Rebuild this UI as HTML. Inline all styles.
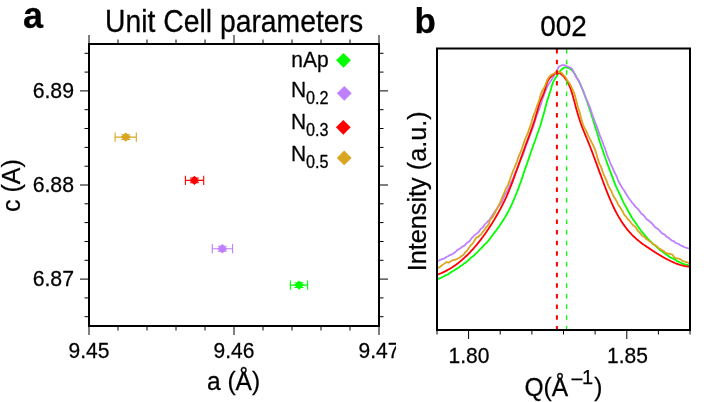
<!DOCTYPE html><html><head><meta charset="utf-8"><style>html,body{margin:0;padding:0;background:#fff;width:710px;height:402px;overflow:hidden}svg{display:block;will-change:transform}text{font-family:"Liberation Sans", sans-serif;fill:#000;stroke:#000;stroke-width:0.25px}</style></head><body>
<svg width="710" height="402" viewBox="0 0 710 402">
<text transform="translate(23.00,28.20) scale(1.000,1.050)" text-anchor="start" style="font-size:36px;font-weight:bold">a</text>
<text transform="translate(105.00,31.60) scale(1.012,1.120)" text-anchor="start" style="font-size:28px">Unit Cell parameters</text>
<path d="M89.0 44 V35.0 M89.0 326 V335.0 M118.0 44 V39.5 M118.0 326 V330.5 M147.0 44 V39.5 M147.0 326 V330.5 M176.0 44 V39.5 M176.0 326 V330.5 M205.0 44 V39.5 M205.0 326 V330.5 M234.0 44 V35.0 M234.0 326 V335.0 M263.0 44 V39.5 M263.0 326 V330.5 M292.0 44 V39.5 M292.0 326 V330.5 M321.0 44 V39.5 M321.0 326 V330.5 M350.0 44 V39.5 M350.0 326 V330.5 M379.0 44 V35.0 M379.0 326 V335.0 M89 53.3 H84.5 M379 53.3 H383.5 M89 72.1 H84.5 M379 72.1 H383.5 M89 90.9 H80.0 M379 90.9 H388.0 M89 109.7 H84.5 M379 109.7 H383.5 M89 128.5 H84.5 M379 128.5 H383.5 M89 147.4 H84.5 M379 147.4 H383.5 M89 166.2 H84.5 M379 166.2 H383.5 M89 185.0 H80.0 M379 185.0 H388.0 M89 203.8 H84.5 M379 203.8 H383.5 M89 222.6 H84.5 M379 222.6 H383.5 M89 241.5 H84.5 M379 241.5 H383.5 M89 260.3 H84.5 M379 260.3 H383.5 M89 279.1 H80.0 M379 279.1 H388.0 M89 297.9 H84.5 M379 297.9 H383.5 M89 316.7 H84.5 M379 316.7 H383.5" stroke="#000" stroke-width="1.0" fill="none"/>
<rect x="89" y="44" width="290" height="282" fill="none" stroke="#000" stroke-width="2"/>
<text transform="translate(74.00,98.10) scale(1.012,1.085)" text-anchor="end" style="font-size:21px">6.89</text>
<text transform="translate(74.00,192.20) scale(1.012,1.085)" text-anchor="end" style="font-size:21px">6.88</text>
<text transform="translate(74.00,286.30) scale(1.012,1.085)" text-anchor="end" style="font-size:21px">6.87</text>
<svg x="0" y="0" width="396" height="402" overflow="hidden">
<text transform="translate(89.00,358.30) scale(1.000,1.085)" text-anchor="middle" style="font-size:21px">9.45</text>
<text transform="translate(234.00,358.30) scale(1.000,1.085)" text-anchor="middle" style="font-size:21px">9.46</text>
<text transform="translate(379.00,358.30) scale(1.000,1.085)" text-anchor="middle" style="font-size:21px">9.47</text>
</svg>
<text transform="translate(233.50,390.00) scale(1.000,1.060)" text-anchor="middle" style="font-size:24.5px">a (Å)</text>
<text transform="translate(20.00,185.60) rotate(-90) scale(1.000,1.040)" text-anchor="middle" style="font-size:25px">c (A)</text>
<text transform="translate(328.60,66.70) scale(1.000,1.085)" text-anchor="end" style="font-size:21px">nAp</text>
<path d="M343.5 52.9 L350.9 60.3 L343.5 67.7 L336.1 60.3 Z" fill="#00ff00"/>
<text transform="translate(328.60,96.70) scale(1.000,1.085)" text-anchor="end" style="font-size:21px">N<tspan dy="6.4" style="font-size:16.2px">0.2</tspan></text>
<path d="M344.3 85.9 L351.7 93.3 L344.3 100.7 L336.9 93.3 Z" fill="#bf80ff"/>
<text transform="translate(328.60,128.70) scale(1.000,1.085)" text-anchor="end" style="font-size:21px">N<tspan dy="6.4" style="font-size:16.2px">0.3</tspan></text>
<path d="M343.3 119.9 L350.7 127.3 L343.3 134.7 L335.9 127.3 Z" fill="#ff0000"/>
<text transform="translate(328.60,160.70) scale(1.000,1.085)" text-anchor="end" style="font-size:21px">N<tspan dy="6.4" style="font-size:16.2px">0.5</tspan></text>
<path d="M344.2 150.5 L351.6 157.9 L344.2 165.3 L336.8 157.9 Z" fill="#daa520"/>
<path d="M115.1 137.1 H136.3 M115.1 132.5 V141.7 M136.3 132.5 V141.7 M121.3 134.7 H130.3 M121.3 139.5 H130.3" stroke="#daa520" stroke-width="1.1" fill="none"/>
<path d="M125.8 132.4 L130.8 137.1 L125.8 141.8 L120.8 137.1 Z" fill="#daa520"/>
<path d="M185.4 180.4 H203.7 M185.4 175.8 V185.0 M203.7 175.8 V185.0 M189.9 178.0 H198.9 M189.9 182.8 H198.9" stroke="#ff0000" stroke-width="1.1" fill="none"/>
<path d="M194.4 175.7 L199.4 180.4 L194.4 185.1 L189.4 180.4 Z" fill="#ff0000"/>
<path d="M212.3 248.7 H232.6 M212.3 244.1 V253.3 M232.6 244.1 V253.3 M217.8 246.3 H226.8 M217.8 251.1 H226.8" stroke="#bf80ff" stroke-width="1.1" fill="none"/>
<path d="M222.3 244.0 L227.3 248.7 L222.3 253.4 L217.3 248.7 Z" fill="#bf80ff"/>
<path d="M290.4 285.1 H307.6 M290.4 280.5 V289.7 M307.6 280.5 V289.7 M294.5 282.7 H303.5 M294.5 287.5 H303.5" stroke="#00ff00" stroke-width="1.1" fill="none"/>
<path d="M299.0 280.4 L304.0 285.1 L299.0 289.8 L294.0 285.1 Z" fill="#00ff00"/>
<text transform="translate(414.50,32.50) scale(1.000,1.000)" text-anchor="start" style="font-size:35px;font-weight:bold">b</text>
<text transform="translate(563.50,36.00) scale(1.000,1.085)" text-anchor="middle" style="font-size:28px">002</text>
<defs><clipPath id="cb"><rect x="437" y="48.5" width="253" height="281.5"/></clipPath></defs>
<g clip-path="url(#cb)">
<path d="M436.0 280.55 L437.0 280.00 L438.0 279.28 L439.0 278.62 L440.0 278.19 L441.0 277.79 L442.0 277.28 L443.0 276.75 L444.0 276.23 L445.0 275.63 L446.0 275.09 L447.0 274.76 L448.0 274.38 L449.0 273.81 L450.0 273.05 L451.0 272.30 L452.0 271.60 L453.0 271.01 L454.0 270.51 L455.0 269.78 L456.0 269.06 L457.0 268.62 L458.0 268.14 L459.0 267.34 L460.0 266.44 L461.0 265.77 L462.0 265.19 L463.0 264.41 L464.0 263.58 L465.0 262.90 L466.0 262.35 L467.0 261.58 L468.0 260.50 L469.0 259.55 L470.0 258.64 L471.0 257.67 L472.0 256.88 L473.0 256.21 L474.0 255.48 L475.0 254.45 L476.0 253.40 L477.0 252.57 L478.0 251.53 L479.0 250.38 L480.0 249.43 L481.0 248.46 L482.0 247.43 L483.0 246.32 L484.0 245.13 L485.0 244.20 L486.0 243.34 L487.0 242.26 L488.0 241.11 L489.0 239.96 L490.0 238.64 L491.0 237.23 L492.0 235.89 L493.0 234.47 L494.0 233.08 L495.0 231.85 L496.0 230.79 L497.0 229.54 L498.0 228.09 L499.0 226.66 L500.0 225.08 L501.0 223.54 L502.0 221.99 L503.0 220.36 L504.0 218.94 L505.0 217.37 L506.0 215.50 L507.0 213.72 L508.0 211.99 L509.0 210.18 L510.0 208.19 L511.0 206.09 L512.0 203.96 L513.0 201.62 L514.0 199.29 L515.0 197.00 L516.0 194.48 L517.0 192.00 L518.0 189.45 L519.0 186.69 L520.0 184.05 L521.0 181.38 L522.0 178.41 L523.0 175.25 L524.0 172.17 L525.0 169.38 L526.0 166.61 L527.0 163.67 L528.0 160.74 L529.0 157.87 L530.0 154.93 L531.0 152.05 L532.0 149.19 L533.0 146.23 L534.0 143.52 L535.0 140.98 L536.0 138.05 L537.0 134.98 L538.0 132.18 L539.0 129.46 L540.0 126.51 L541.0 123.26 L542.0 119.85 L543.0 116.45 L544.0 112.99 L545.0 109.23 L546.0 105.25 L547.0 101.38 L548.0 98.24 L549.0 95.33 L550.0 92.22 L551.0 89.02 L552.0 85.20 L553.0 82.41 L554.0 80.39 L555.0 78.81 L556.0 77.30 L557.0 75.78 L558.0 74.07 L559.0 72.39 L560.0 71.14 L561.0 70.10 L562.0 69.05 L563.0 68.23 L564.0 67.71 L565.0 67.39 L566.0 67.45 L567.0 67.75 L568.0 67.86 L569.0 68.01 L570.0 68.68 L571.0 69.45 L572.0 70.34 L573.0 71.46 L574.0 72.64 L575.0 74.22 L576.0 76.18 L577.0 78.08 L578.0 79.88 L579.0 81.65 L580.0 83.59 L581.0 85.95 L582.0 88.31 L583.0 90.65 L584.0 93.40 L585.0 96.00 L586.0 98.70 L587.0 101.55 L588.0 104.38 L589.0 107.37 L590.0 110.50 L591.0 113.56 L592.0 116.61 L593.0 119.77 L594.0 123.04 L595.0 126.25 L596.0 129.35 L597.0 132.51 L598.0 135.64 L599.0 138.89 L600.0 142.27 L601.0 145.18 L602.0 148.07 L603.0 151.19 L604.0 154.11 L605.0 157.08 L606.0 160.01 L607.0 162.69 L608.0 165.40 L609.0 168.16 L610.0 170.79 L611.0 173.30 L612.0 175.91 L613.0 178.67 L614.0 181.34 L615.0 183.87 L616.0 186.30 L617.0 188.51 L618.0 190.61 L619.0 192.71 L620.0 194.75 L621.0 196.89 L622.0 199.11 L623.0 201.31 L624.0 203.35 L625.0 205.16 L626.0 206.92 L627.0 208.73 L628.0 210.67 L629.0 212.57 L630.0 214.25 L631.0 215.96 L632.0 217.80 L633.0 219.38 L634.0 220.70 L635.0 222.10 L636.0 223.60 L637.0 225.09 L638.0 226.53 L639.0 227.96 L640.0 229.39 L641.0 230.76 L642.0 231.96 L643.0 233.06 L644.0 234.20 L645.0 235.29 L646.0 236.51 L647.0 237.77 L648.0 238.86 L649.0 239.93 L650.0 240.86 L651.0 241.85 L652.0 242.90 L653.0 243.81 L654.0 244.68 L655.0 245.53 L656.0 246.37 L657.0 247.24 L658.0 248.18 L659.0 249.15 L660.0 249.99 L661.0 250.64 L662.0 251.15 L663.0 251.99 L664.0 252.90 L665.0 253.62 L666.0 254.41 L667.0 255.05 L668.0 255.62 L669.0 256.43 L670.0 257.22 L671.0 257.66 L672.0 258.06 L673.0 258.57 L674.0 259.07 L675.0 259.53 L676.0 260.26 L677.0 261.06 L678.0 261.52 L679.0 261.89 L680.0 262.42 L681.0 262.91 L682.0 263.32 L683.0 263.78 L684.0 264.09 L685.0 264.41 L686.0 264.67 L687.0 264.74 L688.0 265.11 L689.0 265.59 L690.0 265.87 L691.0 266.21" stroke="#00ff00" stroke-width="1.8" fill="none" stroke-linejoin="round"/>
<path d="M436.0 260.57 L437.0 260.70 L438.0 261.07 L439.0 260.56 L440.0 259.94 L441.0 259.66 L442.0 259.20 L443.0 258.82 L444.0 258.58 L445.0 257.99 L446.0 257.15 L447.0 256.75 L448.0 256.18 L449.0 255.51 L450.0 255.12 L451.0 254.66 L452.0 254.33 L453.0 253.78 L454.0 252.95 L455.0 252.26 L456.0 251.34 L457.0 250.25 L458.0 249.60 L459.0 249.07 L460.0 248.43 L461.0 247.79 L462.0 246.95 L463.0 246.21 L464.0 246.01 L465.0 245.34 L466.0 243.88 L467.0 242.77 L468.0 242.15 L469.0 241.67 L470.0 240.65 L471.0 239.04 L472.0 237.78 L473.0 236.78 L474.0 235.67 L475.0 234.82 L476.0 234.11 L477.0 233.32 L478.0 232.75 L479.0 231.64 L480.0 229.95 L481.0 228.66 L482.0 227.97 L483.0 227.16 L484.0 225.59 L485.0 224.15 L486.0 223.35 L487.0 222.34 L488.0 221.22 L489.0 220.29 L490.0 218.99 L491.0 217.40 L492.0 215.86 L493.0 214.55 L494.0 212.96 L495.0 211.30 L496.0 209.98 L497.0 208.51 L498.0 206.97 L499.0 205.72 L500.0 204.62 L501.0 203.02 L502.0 201.21 L503.0 199.18 L504.0 196.57 L505.0 194.35 L506.0 192.97 L507.0 191.46 L508.0 189.43 L509.0 187.43 L510.0 185.07 L511.0 182.47 L512.0 180.64 L513.0 178.74 L514.0 175.77 L515.0 172.94 L516.0 170.87 L517.0 168.81 L518.0 166.46 L519.0 163.94 L520.0 161.26 L521.0 158.71 L522.0 156.85 L523.0 154.91 L524.0 151.97 L525.0 148.80 L526.0 145.81 L527.0 142.92 L528.0 140.61 L529.0 138.07 L530.0 135.15 L531.0 132.54 L532.0 129.92 L533.0 127.13 L534.0 124.14 L535.0 120.86 L536.0 117.49 L537.0 114.62 L538.0 112.17 L539.0 109.60 L540.0 107.03 L541.0 104.06 L542.0 100.59 L543.0 97.55 L544.0 95.01 L545.0 92.41 L546.0 89.70 L547.0 87.30 L548.0 85.41 L549.0 83.69 L550.0 82.13 L551.0 80.70 L552.0 79.12 L553.0 77.37 L554.0 75.82 L555.0 74.14 L556.0 72.43 L557.0 70.63 L558.0 68.12 L559.0 66.46 L560.0 66.02 L561.0 65.59 L562.0 65.11 L563.0 65.09 L564.0 65.11 L565.0 65.29 L566.0 65.91 L567.0 66.39 L568.0 66.57 L569.0 66.97 L570.0 67.63 L571.0 68.05 L572.0 68.85 L573.0 70.63 L574.0 72.75 L575.0 74.98 L576.0 77.01 L577.0 78.40 L578.0 79.56 L579.0 81.09 L580.0 83.36 L581.0 86.10 L582.0 88.43 L583.0 90.36 L584.0 92.93 L585.0 95.81 L586.0 98.43 L587.0 100.53 L588.0 102.63 L589.0 105.12 L590.0 107.79 L591.0 110.63 L592.0 113.73 L593.0 116.68 L594.0 119.42 L595.0 122.03 L596.0 124.51 L597.0 127.18 L598.0 129.92 L599.0 132.87 L600.0 135.85 L601.0 138.16 L602.0 140.43 L603.0 143.29 L604.0 145.97 L605.0 148.46 L606.0 151.44 L607.0 154.73 L608.0 157.44 L609.0 159.67 L610.0 162.29 L611.0 164.64 L612.0 166.54 L613.0 168.83 L614.0 171.26 L615.0 173.25 L616.0 175.08 L617.0 177.43 L618.0 180.03 L619.0 182.30 L620.0 184.06 L621.0 185.67 L622.0 187.59 L623.0 189.00 L624.0 190.23 L625.0 192.01 L626.0 193.70 L627.0 195.23 L628.0 196.85 L629.0 198.45 L630.0 199.70 L631.0 200.97 L632.0 202.48 L633.0 203.66 L634.0 204.89 L635.0 206.27 L636.0 207.21 L637.0 208.11 L638.0 209.13 L639.0 210.15 L640.0 211.72 L641.0 213.23 L642.0 213.99 L643.0 214.76 L644.0 215.68 L645.0 216.99 L646.0 218.58 L647.0 219.49 L648.0 220.07 L649.0 220.89 L650.0 221.73 L651.0 222.57 L652.0 223.49 L653.0 224.59 L654.0 225.91 L655.0 227.06 L656.0 227.88 L657.0 228.41 L658.0 229.05 L659.0 230.00 L660.0 231.05 L661.0 232.23 L662.0 233.25 L663.0 233.92 L664.0 234.23 L665.0 234.84 L666.0 236.22 L667.0 237.05 L668.0 237.30 L669.0 238.24 L670.0 239.15 L671.0 239.74 L672.0 240.59 L673.0 240.95 L674.0 241.42 L675.0 242.47 L676.0 242.97 L677.0 243.34 L678.0 243.80 L679.0 244.28 L680.0 245.09 L681.0 245.52 L682.0 245.84 L683.0 246.37 L684.0 247.00 L685.0 247.41 L686.0 247.60 L687.0 248.02 L688.0 248.23 L689.0 248.35 L690.0 248.60 L691.0 248.85" stroke="#bf80ff" stroke-width="1.8" fill="none" stroke-linejoin="round"/>
<path d="M436.0 275.06 L437.0 274.73 L438.0 274.39 L439.0 274.02 L440.0 273.63 L441.0 273.23 L442.0 272.80 L443.0 272.36 L444.0 271.89 L445.0 271.40 L446.0 270.90 L447.0 270.37 L448.0 269.82 L449.0 269.25 L450.0 268.66 L451.0 268.05 L452.0 267.42 L453.0 266.76 L454.0 266.09 L455.0 265.39 L456.0 264.67 L457.0 263.93 L458.0 263.17 L459.0 262.39 L460.0 261.58 L461.0 260.75 L462.0 259.90 L463.0 259.03 L464.0 258.13 L465.0 257.21 L466.0 256.27 L467.0 255.31 L468.0 254.32 L469.0 253.31 L470.0 252.28 L471.0 251.22 L472.0 250.14 L473.0 249.04 L474.0 247.91 L475.0 246.76 L476.0 245.58 L477.0 244.38 L478.0 243.16 L479.0 241.91 L480.0 240.64 L481.0 239.34 L482.0 238.02 L483.0 236.67 L484.0 235.30 L485.0 233.91 L486.0 232.48 L487.0 231.04 L488.0 229.56 L489.0 228.06 L490.0 226.53 L491.0 224.98 L492.0 223.39 L493.0 221.78 L494.0 220.13 L495.0 218.45 L496.0 216.75 L497.0 215.01 L498.0 213.24 L499.0 211.43 L500.0 209.59 L501.0 207.72 L502.0 205.82 L503.0 203.87 L504.0 201.90 L505.0 199.85 L506.0 197.71 L507.0 195.47 L508.0 193.14 L509.0 190.74 L510.0 188.26 L511.0 185.72 L512.0 183.11 L513.0 180.46 L514.0 177.76 L515.0 175.02 L516.0 172.25 L517.0 169.45 L518.0 166.63 L519.0 163.81 L520.0 160.97 L521.0 158.14 L522.0 155.32 L523.0 152.52 L524.0 149.73 L525.0 146.98 L526.0 144.26 L527.0 141.58 L528.0 138.92 L529.0 136.26 L530.0 133.57 L531.0 130.82 L532.0 128.00 L533.0 125.08 L534.0 122.04 L535.0 118.86 L536.0 115.50 L537.0 111.96 L538.0 108.38 L539.0 104.84 L540.0 101.76 L541.0 99.42 L542.0 97.34 L543.0 95.07 L544.0 92.47 L545.0 89.34 L546.0 86.06 L547.0 83.02 L548.0 80.60 L549.0 79.03 L550.0 77.79 L551.0 76.75 L552.0 75.85 L553.0 75.02 L554.0 74.14 L555.0 73.30 L556.0 72.65 L557.0 72.40 L558.0 72.54 L559.0 72.91 L560.0 73.40 L561.0 73.96 L562.0 74.79 L563.0 75.81 L564.0 76.95 L565.0 78.17 L566.0 79.57 L567.0 81.16 L568.0 82.93 L569.0 84.87 L570.0 87.21 L571.0 89.96 L572.0 93.11 L573.0 96.54 L574.0 100.17 L575.0 103.91 L576.0 107.66 L577.0 111.32 L578.0 114.80 L579.0 118.05 L580.0 121.09 L581.0 123.96 L582.0 126.67 L583.0 129.26 L584.0 131.76 L585.0 134.20 L586.0 136.61 L587.0 139.02 L588.0 141.45 L589.0 143.93 L590.0 146.46 L591.0 149.03 L592.0 151.65 L593.0 154.30 L594.0 156.98 L595.0 159.68 L596.0 162.39 L597.0 165.12 L598.0 167.86 L599.0 170.59 L600.0 173.32 L601.0 176.05 L602.0 178.75 L603.0 181.44 L604.0 184.09 L605.0 186.72 L606.0 189.31 L607.0 191.85 L608.0 194.35 L609.0 196.79 L610.0 199.18 L611.0 201.49 L612.0 203.74 L613.0 205.91 L614.0 208.01 L615.0 210.03 L616.0 211.97 L617.0 213.85 L618.0 215.65 L619.0 217.39 L620.0 219.06 L621.0 220.67 L622.0 222.21 L623.0 223.70 L624.0 225.13 L625.0 226.51 L626.0 227.83 L627.0 229.10 L628.0 230.32 L629.0 231.50 L630.0 232.63 L631.0 233.71 L632.0 234.76 L633.0 235.77 L634.0 236.74 L635.0 237.67 L636.0 238.57 L637.0 239.45 L638.0 240.29 L639.0 241.11 L640.0 241.90 L641.0 242.67 L642.0 243.42 L643.0 244.15 L644.0 244.86 L645.0 245.57 L646.0 246.25 L647.0 246.93 L648.0 247.60 L649.0 248.27 L650.0 248.93 L651.0 249.58 L652.0 250.24 L653.0 250.89 L654.0 251.53 L655.0 252.17 L656.0 252.81 L657.0 253.44 L658.0 254.06 L659.0 254.67 L660.0 255.28 L661.0 255.88 L662.0 256.47 L663.0 257.05 L664.0 257.62 L665.0 258.17 L666.0 258.72 L667.0 259.25 L668.0 259.78 L669.0 260.28 L670.0 260.78 L671.0 261.26 L672.0 261.72 L673.0 262.17 L674.0 262.60 L675.0 263.02 L676.0 263.41 L677.0 263.79 L678.0 264.15 L679.0 264.49 L680.0 264.82 L681.0 265.12 L682.0 265.39 L683.0 265.65 L684.0 265.89 L685.0 266.10 L686.0 266.29 L687.0 266.45 L688.0 266.59 L689.0 266.70 L690.0 266.79 L691.0 266.85" stroke="#ff0000" stroke-width="1.8" fill="none" stroke-linejoin="round"/>
<path d="M436.0 270.35 L437.0 268.61 L438.0 267.75 L439.0 267.55 L440.0 266.91 L441.0 266.03 L442.0 265.31 L443.0 264.62 L444.0 263.89 L445.0 263.09 L446.0 262.40 L447.0 262.05 L448.0 262.27 L449.0 262.55 L450.0 261.88 L451.0 260.98 L452.0 260.54 L453.0 260.18 L454.0 259.96 L455.0 259.77 L456.0 259.48 L457.0 258.98 L458.0 258.28 L459.0 257.99 L460.0 257.43 L461.0 256.35 L462.0 255.77 L463.0 255.16 L464.0 254.03 L465.0 252.61 L466.0 251.56 L467.0 250.88 L468.0 249.29 L469.0 247.75 L470.0 246.51 L471.0 245.00 L472.0 244.06 L473.0 243.03 L474.0 241.50 L475.0 239.78 L476.0 237.96 L477.0 237.15 L478.0 237.04 L479.0 236.02 L480.0 235.10 L481.0 234.47 L482.0 232.99 L483.0 231.54 L484.0 230.40 L485.0 228.94 L486.0 227.31 L487.0 226.24 L488.0 225.45 L489.0 223.27 L490.0 220.23 L491.0 218.64 L492.0 217.91 L493.0 216.32 L494.0 214.53 L495.0 212.56 L496.0 210.33 L497.0 208.72 L498.0 206.91 L499.0 204.69 L500.0 202.62 L501.0 200.39 L502.0 197.78 L503.0 195.44 L504.0 193.49 L505.0 190.90 L506.0 188.37 L507.0 186.71 L508.0 184.81 L509.0 182.17 L510.0 179.27 L511.0 176.49 L512.0 173.64 L513.0 170.96 L514.0 168.77 L515.0 166.32 L516.0 163.97 L517.0 161.55 L518.0 158.26 L519.0 155.33 L520.0 153.34 L521.0 151.22 L522.0 148.34 L523.0 145.24 L524.0 142.35 L525.0 139.48 L526.0 137.03 L527.0 135.02 L528.0 132.64 L529.0 129.59 L530.0 126.82 L531.0 124.22 L532.0 120.37 L533.0 116.70 L534.0 114.35 L535.0 112.05 L536.0 109.06 L537.0 105.84 L538.0 103.42 L539.0 100.79 L540.0 97.19 L541.0 93.79 L542.0 91.19 L543.0 89.58 L544.0 88.08 L545.0 85.93 L546.0 83.28 L547.0 80.49 L548.0 78.55 L549.0 77.21 L550.0 75.84 L551.0 75.06 L552.0 74.62 L553.0 73.89 L554.0 73.51 L555.0 73.11 L556.0 72.12 L557.0 71.34 L558.0 71.63 L559.0 72.24 L560.0 72.25 L561.0 72.49 L562.0 73.31 L563.0 74.50 L564.0 75.72 L565.0 76.49 L566.0 77.93 L567.0 80.11 L568.0 81.50 L569.0 82.57 L570.0 84.13 L571.0 86.20 L572.0 88.46 L573.0 90.46 L574.0 92.63 L575.0 95.67 L576.0 99.48 L577.0 103.44 L578.0 107.19 L579.0 110.27 L580.0 113.55 L581.0 117.70 L582.0 121.35 L583.0 124.29 L584.0 127.00 L585.0 128.95 L586.0 130.74 L587.0 132.90 L588.0 135.03 L589.0 137.14 L590.0 139.06 L591.0 140.98 L592.0 143.08 L593.0 144.99 L594.0 147.14 L595.0 149.60 L596.0 152.26 L597.0 155.80 L598.0 159.61 L599.0 162.67 L600.0 164.85 L601.0 166.72 L602.0 169.62 L603.0 172.85 L604.0 175.24 L605.0 177.33 L606.0 179.36 L607.0 182.07 L608.0 184.98 L609.0 187.07 L610.0 188.79 L611.0 190.41 L612.0 192.58 L613.0 195.13 L614.0 197.03 L615.0 198.57 L616.0 200.15 L617.0 201.90 L618.0 204.20 L619.0 205.95 L620.0 206.98 L621.0 208.71 L622.0 210.49 L623.0 212.07 L624.0 214.19 L625.0 215.61 L626.0 216.47 L627.0 218.14 L628.0 219.45 L629.0 220.13 L630.0 221.44 L631.0 222.76 L632.0 224.00 L633.0 225.33 L634.0 226.04 L635.0 226.58 L636.0 227.80 L637.0 229.58 L638.0 231.07 L639.0 231.96 L640.0 232.82 L641.0 234.11 L642.0 235.48 L643.0 236.14 L644.0 236.49 L645.0 237.63 L646.0 238.84 L647.0 239.32 L648.0 239.95 L649.0 240.75 L650.0 241.60 L651.0 242.34 L652.0 242.99 L653.0 244.20 L654.0 244.73 L655.0 245.04 L656.0 245.79 L657.0 246.42 L658.0 247.63 L659.0 248.55 L660.0 248.73 L661.0 249.42 L662.0 250.27 L663.0 250.62 L664.0 251.22 L665.0 252.30 L666.0 253.00 L667.0 253.07 L668.0 253.63 L669.0 253.96 L670.0 253.68 L671.0 254.04 L672.0 254.36 L673.0 255.31 L674.0 256.98 L675.0 257.78 L676.0 258.07 L677.0 258.26 L678.0 258.50 L679.0 258.71 L680.0 259.02 L681.0 259.68 L682.0 260.59 L683.0 261.30 L684.0 261.45 L685.0 261.66 L686.0 262.05 L687.0 262.24 L688.0 262.67 L689.0 263.47 L690.0 263.87 L691.0 264.22" stroke="#daa520" stroke-width="1.8" fill="none" stroke-linejoin="round"/>
<path d="M556.9 49 V330" stroke="#ff0000" stroke-width="2" stroke-dasharray="4.5 6.15" fill="none"/>
<path d="M566.6 49 V330" stroke="#00ff00" stroke-width="1.3" stroke-dasharray="4.5 6.15" fill="none"/>
</g>
<path d="M437.0 330 V334.5 M468.6 330 V339.0 M500.2 330 V334.5 M531.9 330 V334.5 M563.5 330 V334.5 M595.1 330 V334.5 M626.8 330 V339.0 M658.4 330 V334.5 M690.0 330 V334.5" stroke="#000" stroke-width="1.0" fill="none"/>
<rect x="437" y="48.5" width="253" height="281.5" fill="none" stroke="#000" stroke-width="2"/>
<text transform="translate(469.00,362.70) scale(1.000,1.085)" text-anchor="middle" style="font-size:21px">1.80</text>
<text transform="translate(627.40,362.70) scale(1.000,1.085)" text-anchor="middle" style="font-size:21px">1.85</text>
<text transform="translate(426.00,191.30) rotate(-90) scale(1.027,1.085)" text-anchor="middle" style="font-size:24.6px">Intensity (a.u.)</text>
<text transform="translate(524.50,396.00) scale(1.000,1.060)" text-anchor="start" style="font-size:24.6px">Q(Å</text>
<text transform="translate(570.50,386.00) scale(1.100,1.000)" text-anchor="start" style="font-size:20px">−</text>
<text transform="translate(582.00,383.50) scale(1.000,1.000)" text-anchor="start" style="font-size:20px">1</text>
<text transform="translate(594.20,396.00) scale(1.000,1.060)" text-anchor="start" style="font-size:24.6px">)</text>
</svg></body></html>
